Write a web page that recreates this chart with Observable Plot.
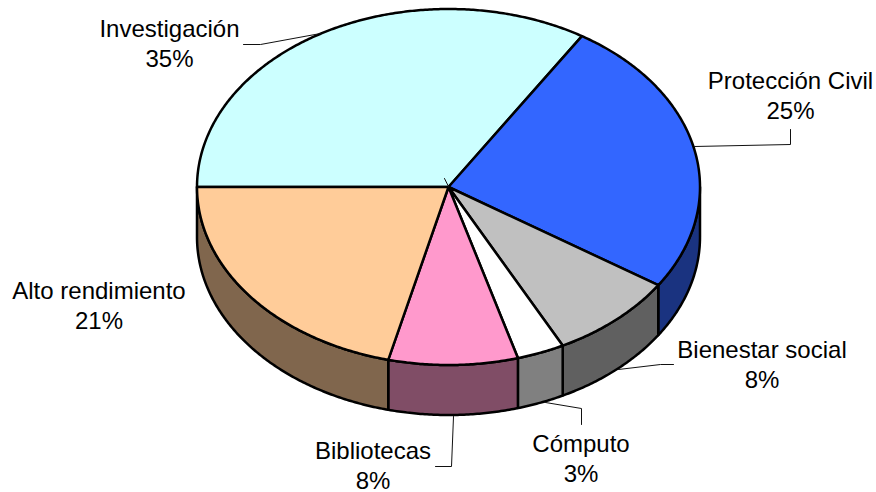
<!DOCTYPE html>
<html>
<head>
<meta charset="utf-8">
<script src="https://cdn.jsdelivr.net/npm/d3@7"></script>
<script src="https://cdn.jsdelivr.net/npm/@observablehq/plot@0.6"></script>
<style>html,body{margin:0;padding:0;background:#fff}svg{display:block}</style>
</head>
<body>
<div id="chart"></div>
<script>
// Data, clockwise from the left edge of the pie
const categories = ["Investigación", "Protección Civil", "Bienestar social", "Cómputo", "Bibliotecas", "Alto rendimiento"];
const labels = ["35%", "25%", "8%", "3%", "8%", "21%"];
// Drawn shares
const shares = [33.9, 25.4, 8.2, 3.05, 8.3, 21.15];
const topColors = ["#ccffff", "#3366ff", "#c0c0c0", "#ffffff", "#ff99cc", "#ffcc99"];
const sideColors = ["#668080", "#1a3380", "#606060", "#808080", "#804d66", "#80664d"];

// Layout of the tilted disc (pixels)
const cx = 448, cy = 186.5, rx = 251.5, ry = 178, depth = 50;
const labelX = [169, 790, 761.5, 580.5, 372.5, 98.5];
const labelY = [42, 93.5, 362.5, 457, 463.5, 303.5];
const leaderX = [[243, 260, 320], [694, 790, 790], [618, 660, 673], [545, 581, 581], [453, 451, 435], [444, 448]];
const leaderY = [[44, 44, 33], [146, 144, 129], [369, 364, 364], [402, 408, 424], [416, 466, 466], [178, 186]];

const total = d3.sum(shares);
const rad = (a) => a * Math.PI / 180;
const px = (a) => cx + rx * Math.cos(rad(a));
const py = (a, dz = 0) => cy - ry * Math.sin(rad(a)) + dz;

// Parametric angle decreases clockwise from 180°
let acc = 180;
const slices = shares.map((s, i) => {
  const a0 = acc;
  const a1 = acc - s / total * 360;
  acc = a1;
  return {i, a0, a1};
});

function arcAngles(a0, a1) {
  const n = Math.max(2, Math.ceil(Math.abs(a0 - a1) * 2));
  return d3.range(n + 1).map((k) => a0 + (a1 - a0) * k / n);
}

const topPts = [];
const sidePts = [];
for (const {i, a0, a1} of slices) {
  topPts.push({k: i, x: cx, y: cy, c: topColors[i]});
  for (const a of arcAngles(a0, a1)) topPts.push({k: i, x: px(a), y: py(a), c: topColors[i]});
  topPts.push({k: i, x: cx, y: cy, c: topColors[i]});

  // Side wall: only the front half (angles from 0° down to -180°)
  const s0 = Math.min(a0, 0), s1 = Math.max(a1, -180);
  if (s0 > s1) {
    const as = arcAngles(s0, s1);
    for (const a of as) sidePts.push({k: i, x: px(a), y: py(a), c: sideColors[i]});
    for (const a of as.slice().reverse()) sidePts.push({k: i, x: px(a), y: py(a, depth), c: sideColors[i]});
    sidePts.push({k: i, x: px(s0), y: py(s0), c: sideColors[i]});
  }
}

const leaderPts = leaderX.flatMap((xs, i) => xs.map((x, j) => ({k: i, x, y: leaderY[i][j]})));
const labelRows = categories.map((name, i) => ({text: name + "\n" + labels[i], x: labelX[i], y: labelY[i]}));

const chart = Plot.plot({
  width: 876,
  height: 492,
  margin: 0,
  style: {background: "#fff"},
  x: {domain: [0, 876], range: [0, 876], axis: null},
  y: {domain: [0, 492], range: [0, 492], axis: null},
  color: {type: "identity"},
  marks: [
    Plot.line(sidePts, {x: "x", y: "y", z: "k", fill: "c", stroke: "#000", strokeWidth: 2.5, strokeLinejoin: "round"}),
    Plot.line(topPts, {x: "x", y: "y", z: "k", fill: "c", stroke: "#000", strokeWidth: 2.5, strokeLinejoin: "round"}),
    Plot.line(leaderPts, {x: "x", y: "y", z: "k", stroke: "#111", strokeWidth: 1}),
    Plot.text(labelRows, {
      x: "x", y: "y", text: "text",
      fontFamily: "Liberation Sans", fontSize: 24, lineHeight: 1.25,
      fill: "#000", textAnchor: "middle", lineAnchor: "middle"
    })
  ]
});
document.getElementById("chart").append(chart);
</script>
</body>
</html>
